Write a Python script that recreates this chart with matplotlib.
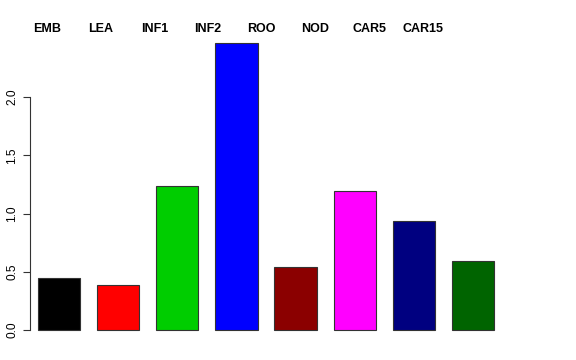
import matplotlib
matplotlib.use("Agg")
import matplotlib.pyplot as plt
import numpy as np

categories = ["EMB", "LEA", "INF1", "INF2", "ROO", "NOD", "CAR5", "CAR15"]
values = [0.45, 0.39, 1.235, 2.46, 0.545, 1.195, 0.935, 0.595]
colors = ["#000000", "#FF0000", "#00CD00", "#0000FF", "#8B0000", "#FF00FF", "#000080", "#006400"]
yticks = [0.0, 0.5, 1.0, 1.5, 2.0]

plt.rcParams["font.family"] = ["Liberation Sans", "DejaVu Sans"]

fig = plt.figure(figsize=(5.76, 3.6), dpi=100)
ax = fig.add_axes([0, 20 / 360, 1, 320 / 360])

# R barplot layout: width 1, space 0.4
x = 0.9 + 1.4 * np.arange(len(categories))
ax.bar(x, values, width=1.0, color=colors, edgecolor="#333333", linewidth=0.8)

# category labels across the top
lab_x = 0.62 + 1.27 * np.arange(len(categories))
for lx, lab in zip(lab_x, categories):
    ax.text(lx, 2.584, lab, ha="center", va="center", fontsize=9, fontweight="bold")

ax.set_xlim(-0.497, 13.14)
ax.set_ylim(-0.0858, 2.661)

for s in ["top", "right", "bottom"]:
    ax.spines[s].set_visible(False)
ax.spines["left"].set_position(("data", (30 - 21) / 42.24))
ax.spines["left"].set_bounds(0, 2)
ax.spines["left"].set_color("#333333")
ax.set_xticks([])
ax.set_yticks(yticks)
ax.set_yticklabels([f"{t:.1f}" for t in yticks], rotation=90, va="center", fontsize=8.6)
ax.tick_params(axis="y", direction="out", length=5, width=0.8, pad=3.5, color="#333333")
ax.patch.set_alpha(0)

fig.savefig("out.png", dpi=100)
